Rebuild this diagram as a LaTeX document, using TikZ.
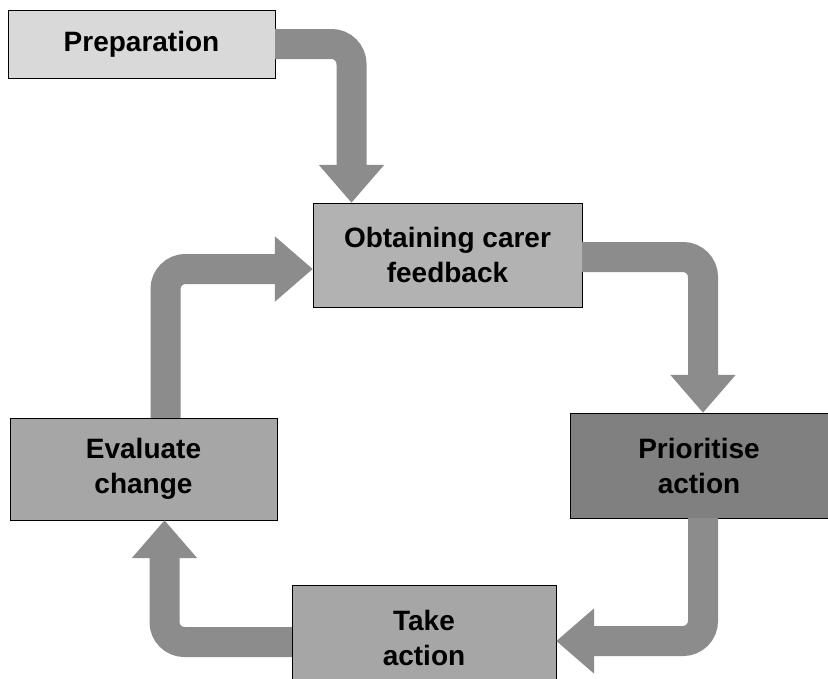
\documentclass[tikz,border=0pt]{standalone}
\usepackage{fontspec}
\setmainfont{Liberation Sans}
\usetikzlibrary{arrows.meta}

\begin{document}
\begin{tikzpicture}[x=1pt, y=-1pt,
        stage/.style = {draw = black!55, rectangle, align = center, inner sep = 2pt,
            font = {\fontsize{28}{35}\selectfont\bfseries}, black},
        flow/.style = {draw = black!45, line width = 30pt, rounded corners = 20pt,
            -{Triangle[width = 63pt, length = 38pt]}}]
        \useasboundingbox (0, 0) rectangle (828, 678);
        \clip (0, 0) rectangle (828, 678);
        \fill[white] (0, 0) rectangle (828, 678);

        % stages of the cycle
        \node[stage, fill = black!15, minimum width = 267pt, minimum height = 68pt] (prep) at (141.5, 44) {Preparation};
        \node[stage, fill = black!30, minimum width = 269pt, minimum height = 104pt] (obtain) at (447.5, 255) {Obtaining carer\\feedback};
        \node[stage, fill = black!50, minimum width = 258pt, minimum height = 105pt] (prior) at (699, 465.5) {Prioritise\\action};
        \node[stage, fill = black!35, minimum width = 264pt, minimum height = 106pt] (take) at (424, 638) {Take\\action};
        \node[stage, fill = black!35, minimum width = 267pt, minimum height = 102pt] (eval) at (143.5, 469) {Evaluate\\change};

        % arrows between them
        \draw[flow] (prep.east) -| ([xshift = -96pt]obtain.north);
        \draw[flow] ([yshift = -2pt]obtain.east) -| ([xshift = 4pt]prior.north);
        \draw[flow] ([xshift = 4pt]prior.south) |- ([yshift = -3pt]take.east);
        \draw[flow] ([yshift = -4pt]take.west) -| ([xshift = 21pt]eval.south);
        \draw[flow] ([xshift = 22pt]eval.north) |- ([yshift = -14pt]obtain.west);
    \end{tikzpicture}
\end{document}
